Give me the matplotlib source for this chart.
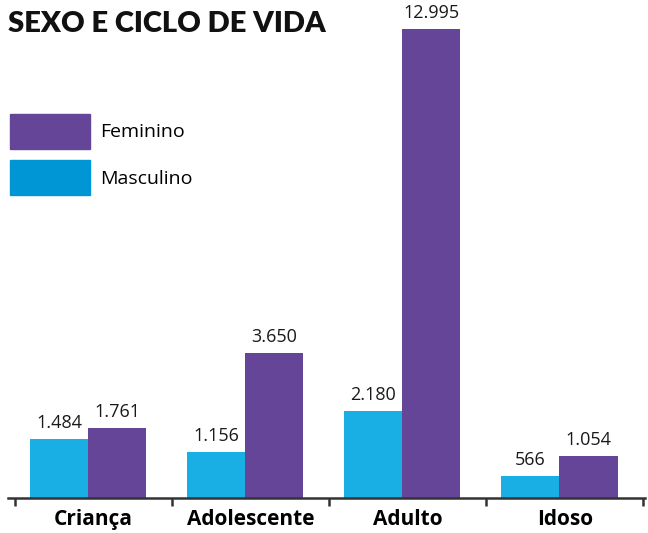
import matplotlib
matplotlib.use("Agg")
import matplotlib.pyplot as plt
from matplotlib.patches import Patch
import numpy as np

categories = ["Criança", "Adolescente", "Adulto", "Idoso"]
masculino = [1484, 1156, 2180, 566]
feminino = [1761, 3650, 12995, 1054]
masc_labels = ["1.484", "1.156", "2.180", "566"]
fem_labels = ["1.761", "3.650", "12.995", "1.054"]

c_masc = "#1aafe4"
c_masc_leg = "#0096d6"
c_fem = "#654597"

W, H = 648, 533
fig = plt.figure(figsize=(W / 100, H / 100), dpi=100)
ax = fig.add_axes([8 / W, 35 / H, (645 - 8) / W, (498 - 29) / H])

ymax = 11810
x = np.arange(len(categories))
bw = 0.37
off = -0.035
b1 = ax.bar(x + off - bw / 2, masculino, bw, color=c_masc, zorder=2)
b2 = ax.bar(x + off + bw / 2, feminino, bw, color=c_fem, zorder=2)
ax.set_ylim(0, ymax)
ax.set_xlim(-0.545, 3.51)

vfont = dict(family=["Open Sans", "DejaVu Sans"], fontsize=13, color="#1a1a1a")
for bars, labs in ((b1, masc_labels), (b2, fem_labels)):
    for r, lab in zip(bars, labs):
        top = min(r.get_height(), ymax)
        ax.annotate(lab, (r.get_x() + r.get_width() / 2, top), xytext=(0, 5),
                    textcoords="offset points", ha="center", va="bottom",
                    annotation_clip=False, **vfont)

for s in ("top", "right", "left"):
    ax.spines[s].set_visible(False)
ax.spines["bottom"].set_color("#333333")
ax.spines["bottom"].set_linewidth(1.8)
ax.set_yticks([])
ax.set_xticks(x)
ax.set_xticklabels(categories, fontfamily="Open Sans", fontweight="bold", fontsize=15)
ax.tick_params(axis="x", which="major", length=0, pad=8)
ax.set_xticks(np.arange(-0.5, 4.0, 1.0), minor=True)
ax.tick_params(axis="x", which="minor", length=6, width=1.8, color="#333333", direction="out")

fig.text(8 / W, 1 - 24 / H, "SEXO E CICLO DE VIDA", fontfamily=["Lato", "DejaVu Sans"],
         fontweight="heavy", fontsize=21, ha="left", va="center", color="#111111")

handles = [Patch(color=c_fem), Patch(color=c_masc_leg)]
fig.legend(handles, ["Feminino", "Masculino"], loc="upper left",
           bbox_to_anchor=(10 / W, 1 - 114 / H), frameon=False,
           prop=dict(family="Open Sans", size=14), handlelength=4.11, handleheight=2.39,
           handletextpad=0.51, labelspacing=0.57, borderpad=0, borderaxespad=0)

fig.savefig("out.png", dpi=100)
